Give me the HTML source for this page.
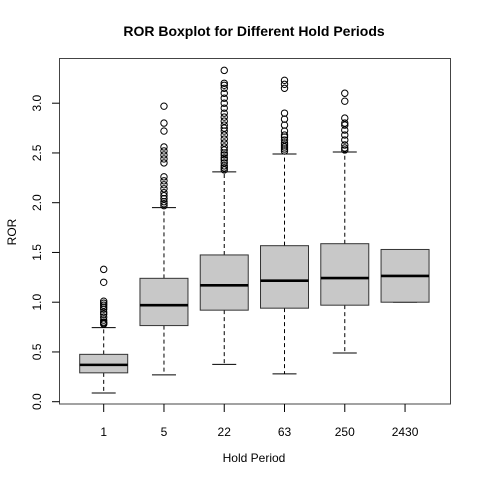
<!DOCTYPE html>
<html><head><meta charset="utf-8"><style>
body{margin:0;background:#fff}
svg text{font-family:"Liberation Sans",Arial,sans-serif}
</style></head><body>
<svg id="chart" width="480" height="480" viewBox="0 0 480 480">
<text x="254" y="36" text-anchor="middle" font-size="14" font-weight="bold">ROR Boxplot for Different Hold Periods</text>
<text x="254" y="462" text-anchor="middle" font-size="12">Hold Period</text>
<text transform="translate(16,232) rotate(-90)" text-anchor="middle" font-size="12">ROR</text>
<rect x="59.5" y="58.5" width="391" height="345.5" fill="none" stroke="#444" stroke-width="1"/>
<g id="marks"></g>
</svg>
<script>
const categories=["1","5","22","63","250","2430"];
const lowWhisker=[0.087,0.27,0.375,0.28,0.49,1.0];
const q1=[0.29,0.765,0.92,0.94,0.97,1.0];
const medians=[0.37,0.97,1.17,1.216,1.243,1.264];
const q3=[0.476,1.24,1.475,1.568,1.588,1.53];
const highWhisker=[0.744,1.95,2.31,2.49,2.51,1.53];
const outliers=[
[0.78,0.79,0.8,0.82,0.85,0.88,0.9,0.93,0.95,0.97,0.99,1.01,1.2,1.33],
[1.97,1.99,2.01,2.04,2.07,2.1,2.14,2.18,2.22,2.26,2.4,2.44,2.48,2.52,2.56,2.72,2.8,2.97],
[2.33,2.35,2.37,2.4,2.43,2.45,2.48,2.5,2.53,2.56,2.6,2.64,2.68,2.72,2.75,2.78,2.82,2.86,2.9,2.95,3.0,3.05,3.1,3.15,3.18,3.2,3.33],
[2.52,2.54,2.56,2.58,2.6,2.63,2.66,2.68,2.72,2.78,2.84,2.9,3.15,3.19,3.23],
[2.53,2.55,2.58,2.63,2.68,2.73,2.78,2.8,2.85,3.02,3.1],
[]];
const yTicks=[0,0.5,1,1.5,2,2.5,3];
const yTickLabels=["0.0","0.5","1.0","1.5","2.0","2.5","3.0"];
const NS="http://www.w3.org/2000/svg";
const y=v=>401.7-99.5*v;
const x=i=>103.7+60.27*i;
const g=document.getElementById('marks');
function mk(tag,attrs){const e=document.createElementNS(NS,tag);for(const k in attrs)e.setAttribute(k,attrs[k]);g.appendChild(e);return e;}
yTicks.forEach((t,i)=>{
 const l=mk('line',{x1:52,x2:59.5,y1:y(t),y2:y(t),stroke:'#000'});
 
 
 const tx=mk('text',{transform:`translate(41,${y(t)}) rotate(-90)`,'text-anchor':'middle','font-size':12});
 tx.textContent=yTickLabels[i];
 
 
});
categories.forEach((c,i)=>{
 const cx=x(i);
 const tk=mk('line',{x1:cx,x2:cx,y1:404,y2:412,stroke:'#000'});
 
 
 const tl=mk('text',{x:cx,y:436,'text-anchor':'middle','font-size':12});
 tl.textContent=c;
 
 
 if(highWhisker[i]>q3[i]){
  const w=mk('line',{x1:cx,x2:cx,y1:y(q3[i]),y2:y(highWhisker[i]),stroke:'#000','stroke-dasharray':'4,3'});
  
  
 }
 if(lowWhisker[i]<q1[i]){
  const w=mk('line',{x1:cx,x2:cx,y1:y(q1[i]),y2:y(lowWhisker[i]),stroke:'#000','stroke-dasharray':'4,3'});
  
  
 }
 const c1=mk('line',{x1:cx-12,x2:cx+12,y1:y(highWhisker[i]),y2:y(highWhisker[i]),stroke:'#000'});
 
 
 const c2=mk('line',{x1:cx-12,x2:cx+12,y1:y(lowWhisker[i]),y2:y(lowWhisker[i]),stroke:'#000'});
 
 
 const b=mk('rect',{x:cx-24,y:y(q3[i]),width:48,height:y(q1[i])-y(q3[i]),fill:'#c8c8c8',stroke:'#333'});
 
 
 const m=mk('line',{x1:cx-24,x2:cx+24,y1:y(medians[i]),y2:y(medians[i]),stroke:'#000','stroke-width':2.6});
 
 
 outliers[i].forEach(v=>{
  const o=mk('circle',{cx:cx,cy:y(v),r:3.2,fill:'none',stroke:'#000','stroke-width':1});
  
  
 });
});
</script>
</body></html>
